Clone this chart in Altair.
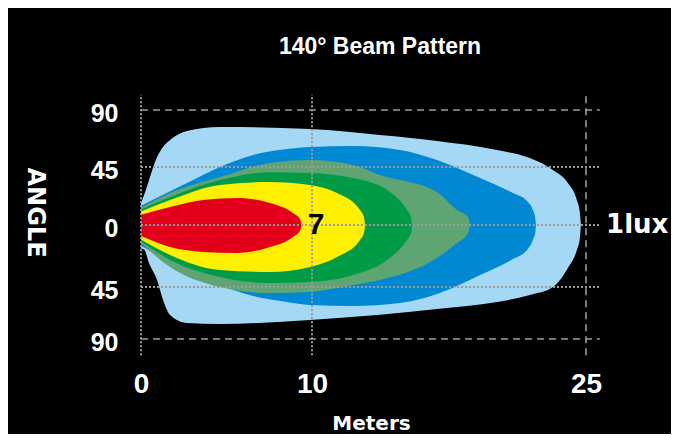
import altair as alt
import pandas as pd

# ---- beam contours: distance (m), upper angle, lower angle ----
lb_m  = [0, 0.2, 0.45, 0.94, 1.29, 1.70, 2.69, 4.62, 9.88, 13.72, 16.84, 20.13, 21.93, 23.19, 24.01, 24.50, 24.66, 24.72]
lb_hi = [17, 24, 34, 52.9, 60.8, 66.3, 73.4, 76.6, 75, 70.2, 65.5, 58.4, 52.1, 42.7, 32.6, 19.4, 10, 0]
lb_lo = [-17, -18, -27, -40, -56.2, -69.2, -76.1, -77, -73.5, -69, -64, -58, -51.9, -45, -31.2, -18.2, -10, 0]

bl_m  = [0, 2.69, 4.62, 6.55, 8.54, 9.88, 12.24, 14.82, 16.84, 19.20, 21.00, 21.77, 22.09, 22.22, 22.26]
bl_hi = [15, 32.6, 45, 54.5, 59.2, 60.8, 61.6, 58.4, 50.5, 36.5, 24.8, 18.6, 11.6, 5.5, 0]
bl_lo = [-15, -32.7, -43.6, -52.8, -58, -60.6, -61.4, -58.8, -51.1, -36.3, -24.7, -18.2, -10.9, -5.5, 0]

gg_m  = [0, 1.70, 4.62, 7.54, 9.88, 12.24, 13.72, 16.84, 17.94, 18.54, 18.65]
gg_hi = [13.5, 24.8, 37.2, 48.2, 50.5, 46.6, 38.8, 25.6, 11.6, 6, 0]
gg_lo = [-13, -30.5, -45, -50.2, -49.3, -43.6, -39.9, -24, -13.1, -6, 0]

gr_m  = [0, 1.70, 4.62, 7.54, 9.88, 12.24, 14.11, 15.20, 15.42, 15.48]
gr_hi = [12, 21.7, 34.9, 41, 40.4, 36.5, 27.2, 11.6, 6, 0]
gr_lo = [-12, -25.4, -37.8, -42.1, -41.4, -36.3, -25.4, -10.9, -6, 0]

ye_m  = [0, 1.70, 4.62, 7.54, 9.88, 11.37, 12.63, 12.85, 12.90]
ye_hi = [10.5, 19.4, 31, 33.4, 31, 24.8, 11.6, 5.5, 0]
ye_lo = [-10.5, -21.8, -32.7, -34.1, -30.5, -23.2, -10.9, -5.5, 0]

rd_m  = [0, 1.70, 3.63, 5.61, 7.54, 8.89, 9.30, 9.40]
rd_hi = [8, 14, 19.4, 21, 17.1, 9.3, 4.5, 0]
rd_lo = [-8, -16, -19.6, -20.3, -16, -8.7, -4, 0]

band_colors = ["#A4D8F4", "#0088D2", "#5FA573", "#009B46", "#FFF000", "#E2001A"]

# ---- grid / ticks ----
x_ticks = [0, 10, 25]
y_ticks = [-90, -45, 0, 45, 90]
h_dashed = [90, -90]
h_dotted = [45, 0, -45]
v_dotted = [0, 10]
v_dashed = [25]

W, H = 474, 268
xs = alt.Scale(domain=[0, 10, 25], range=[5, 176, 450], nice=False, zero=False)
ys = alt.Scale(domain=[-90, -45, 0, 45, 90], range=[247, 195, 133, 75, 18], nice=False, zero=False)

xax = alt.Axis(values=x_ticks, domain=False, ticks=False, grid=False, labelFlush=False,
               labelColor="white", labelFont="Liberation Sans", labelFontWeight="bold",
               labelFontSize=28, labelBaseline="alphabetic", labelPadding=32,
               title="Meters", titleColor="white", titleFont="DejaVu Sans",
               titleFontWeight="bold", titleFontSize=20, titleX=235, titleY=69,
               titleBaseline="alphabetic", titleAnchor="start", titleAlign="center")
yax = alt.Axis(values=y_ticks, domain=False, ticks=False, grid=False, labelFlush=False,
               labelExpr="abs(datum.value)",
               labelColor="white", labelFont="Liberation Sans", labelFontWeight="bold",
               labelFontSize=25, labelPadding=18, labelOffset=3,
               title="ANGLE", titleColor="white", titleFont="DejaVu Sans",
               titleFontWeight="bold", titleFontSize=24, titleAngle=90,
               titleX=-102, titleY=120, titleAlign="center", titleBaseline="middle")


def band(m, hi, lo, color):
    df = pd.DataFrame({"m": m, "hi": hi, "lo": lo})
    return alt.Chart(df).mark_area(color=color, interpolate="monotone").encode(
        x=alt.X("m:Q", scale=xs, axis=xax),
        y=alt.Y("hi:Q", scale=ys, axis=yax, stack=None),
        y2="lo:Q",
    )


layers = [
    band(lb_m, lb_hi, lb_lo, band_colors[0]),
    band(bl_m, bl_hi, bl_lo, band_colors[1]),
    band(gg_m, gg_hi, gg_lo, band_colors[2]),
    band(gr_m, gr_hi, gr_lo, band_colors[3]),
    band(ye_m, ye_hi, ye_lo, band_colors[4]),
    band(rd_m, rd_hi, rd_lo, band_colors[5]),
]

hd = pd.DataFrame({"a": h_dashed, "x1": 0, "x2": 25.76})
ho = pd.DataFrame({"a": h_dotted, "x1": 0, "x2": 25.76})
vo = pd.DataFrame({"m": v_dotted, "y1": -104, "y2": 102})
vd = pd.DataFrame({"m": v_dashed, "y1": -104, "y2": 102})

dotted = dict(color="#9a9a9a", strokeWidth=2, strokeDash=[2, 2])
dashed = dict(color="#9a9a9a", strokeWidth=1.6, strokeDash=[7, 5])

layers += [
    alt.Chart(hd).mark_rule(**dashed).encode(
        x=alt.X("x1:Q", scale=xs, axis=xax), x2="x2:Q",
        y=alt.Y("a:Q", scale=ys, axis=yax)),
    alt.Chart(ho).mark_rule(**dotted).encode(
        x=alt.X("x1:Q", scale=xs, axis=xax), x2="x2:Q",
        y=alt.Y("a:Q", scale=ys, axis=yax)),
    alt.Chart(vo).mark_rule(**dotted).encode(
        x=alt.X("m:Q", scale=xs, axis=xax),
        y=alt.Y("y1:Q", scale=ys, axis=yax), y2="y2:Q"),
    alt.Chart(vd).mark_rule(**dashed).encode(
        x=alt.X("m:Q", scale=xs, axis=xax),
        y=alt.Y("y1:Q", scale=ys, axis=yax), y2="y2:Q"),
]

lab7 = pd.DataFrame({"m": [10.22], "a": [0], "t": ["7"]})
labl = pd.DataFrame({"m": [26.1], "a": [0], "t": ["1lux"]})

layers += [
    alt.Chart(lab7).mark_text(color="black", font="Liberation Sans", fontWeight="bold",
                              fontSize=30, align="center", baseline="middle").encode(
        x=alt.X("m:Q", scale=xs, axis=xax), y=alt.Y("a:Q", scale=ys, axis=yax), text="t:N"),
    alt.Chart(labl).mark_text(color="white", font="DejaVu Sans", fontWeight="bold",
                              fontSize=26, align="left", baseline="middle").encode(
        x=alt.X("m:Q", scale=xs, axis=xax), y=alt.Y("a:Q", scale=ys, axis=yax), text="t:N"),
]

chart = alt.layer(*layers).properties(
    width=W, height=H,
    background="black",
    autosize=alt.AutoSizeParams(type="none"),
    padding={"left": 128, "top": 84, "right": 61, "bottom": 74},
    title=alt.TitleParams("140° Beam Pattern", color="white", font="Liberation Sans",
                          fontWeight="bold", fontSize=23, anchor="middle", dx=7,
                          offset=15, baseline="alphabetic"),
).configure_view(stroke=None)

chart.save("out.html", embed_options={"renderer": "svg", "actions": False})
